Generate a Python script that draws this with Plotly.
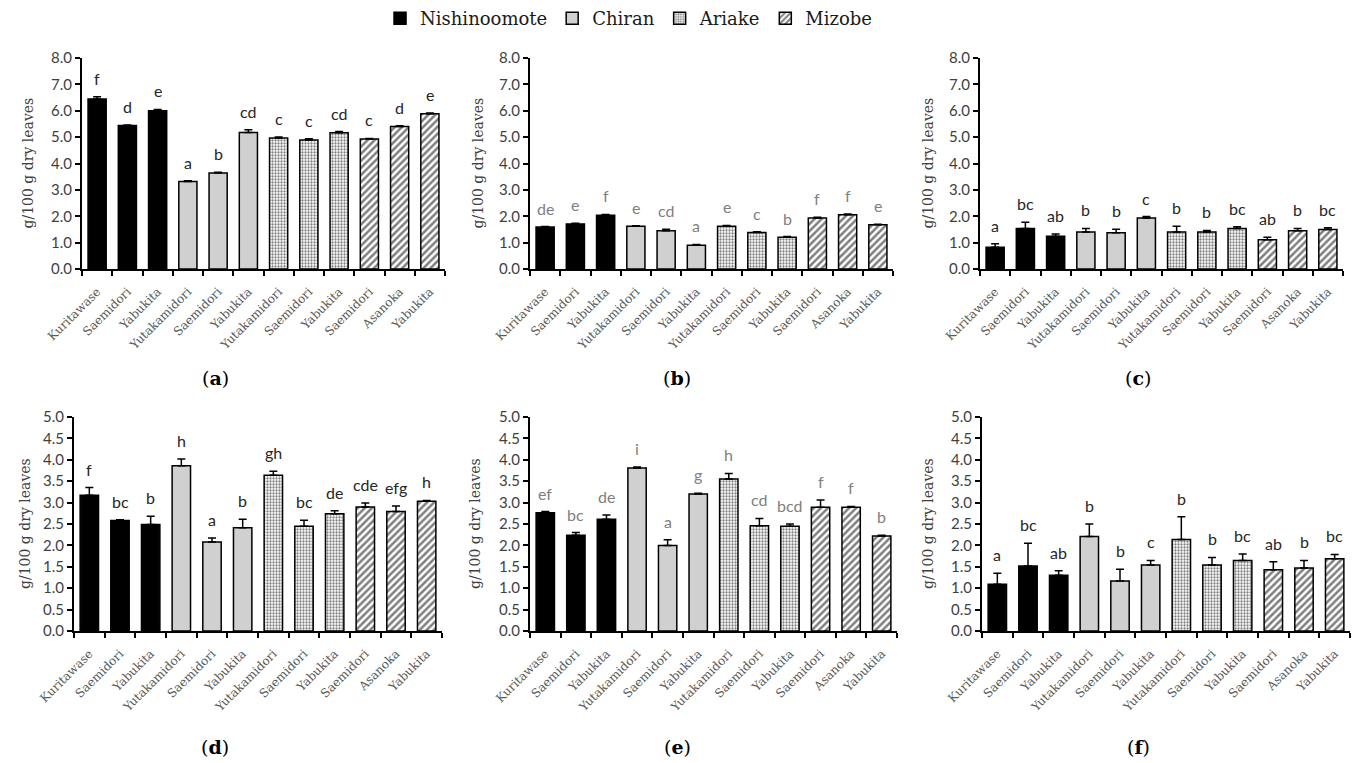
import plotly.graph_objects as go

# ---------------- data ----------------
categories = ["Kuritawase", "Saemidori", "Yabukita", "Yutakamidori", "Saemidori", "Yabukita",
              "Yutakamidori", "Saemidori", "Yabukita", "Saemidori", "Asanoka", "Yabukita"]
regions = ["Nishinoomote", "Chiran", "Ariake", "Mizobe"]
region_index = [0, 0, 0, 1, 1, 1, 2, 2, 2, 3, 3, 3]

vals_a = [6.45, 5.44, 6.00, 3.32, 3.64, 5.18, 4.97, 4.89, 5.17, 4.93, 5.40, 5.89]
err_a = [0.08, 0.02, 0.05, 0.03, 0.03, 0.10, 0.03, 0.05, 0.04, 0.02, 0.03, 0.02]
let_a = ["f", "d", "e", "a", "b", "cd", "c", "c", "cd", "c", "d", "e"]

vals_b = [1.59, 1.71, 2.04, 1.62, 1.45, 0.90, 1.62, 1.38, 1.20, 1.93, 2.06, 1.68]
err_b = [0.02, 0.02, 0.03, 0.02, 0.06, 0.03, 0.03, 0.03, 0.03, 0.03, 0.03, 0.02]
let_b = ["de", "e", "f", "e", "cd", "a", "e", "c", "b", "f", "f", "e"]

vals_c = [0.82, 1.54, 1.24, 1.40, 1.37, 1.93, 1.40, 1.40, 1.54, 1.11, 1.45, 1.50]
err_c = [0.14, 0.23, 0.09, 0.14, 0.14, 0.06, 0.22, 0.06, 0.06, 0.09, 0.09, 0.06]
let_c = ["a", "bc", "ab", "b", "b", "c", "b", "b", "bc", "ab", "b", "bc"]

vals_d = [3.17, 2.58, 2.49, 3.86, 2.08, 2.41, 3.64, 2.45, 2.74, 2.90, 2.79, 3.03]
err_d = [0.18, 0.02, 0.19, 0.16, 0.09, 0.20, 0.09, 0.14, 0.07, 0.09, 0.13, 0.02]
let_d = ["f", "bc", "b", "h", "a", "b", "gh", "bc", "de", "cde", "efg", "h"]

vals_e = [2.76, 2.24, 2.61, 3.81, 2.00, 3.20, 3.55, 2.46, 2.45, 2.89, 2.89, 2.22]
err_e = [0.03, 0.06, 0.10, 0.02, 0.13, 0.02, 0.13, 0.17, 0.05, 0.17, 0.02, 0.02]
let_e = ["ef", "bc", "de", "i", "a", "g", "h", "cd", "bcd", "f", "f", "b"]

vals_f = [1.09, 1.52, 1.30, 2.21, 1.17, 1.54, 2.14, 1.54, 1.65, 1.43, 1.47, 1.69]
err_f = [0.26, 0.53, 0.11, 0.29, 0.27, 0.11, 0.53, 0.18, 0.15, 0.19, 0.18, 0.10]
let_f = ["a", "bc", "ab", "b", "b", "c", "b", "b", "bc", "ab", "b", "bc"]

panel_labels = ["a", "b", "c", "d", "e", "f"]
y_max = [8, 8, 8, 5, 5, 5]
y_step = [1.0, 1.0, 1.0, 0.5, 0.5, 0.5]
y_title = "g/100 g dry leaves"

# ---------------- styles ----------------
W, H = 1359, 763
# plot boxes in pixels: (left, right, top, bottom)
boxes = [(82, 445, 58, 269), (530, 893, 58, 269), (980, 1343, 58, 269),
         (74, 442, 417, 631), (530, 897, 417, 631), (982, 1350, 417, 631)]
title_x = [27, 477, 927, 25, 475, 928]
label_pos = [(215, 378), (677, 378), (1138, 378), (215, 747), (677, 747), (1138, 747)]
letter_colors = ["#262626", "#808080", "#262626", "#262626", "#808080", "#262626"]

region_marker = [
    dict(color="black", line=dict(color="black", width=1.5)),
    dict(color="#d0d0d0", line=dict(color="black", width=1.5)),
    dict(color="white", line=dict(color="black", width=1.5),
         pattern=dict(shape=".", fgcolor="black", bgcolor="white", size=3, solidity=0.45)),
    dict(color="white", line=dict(color="black", width=1.5),
         pattern=dict(shape="/", fgcolor="black", bgcolor="white", size=5, solidity=0.5)),
]

panels = [(vals_a, err_a, let_a), (vals_b, err_b, let_b), (vals_c, err_c, let_c),
          (vals_d, err_d, let_d), (vals_e, err_e, let_e), (vals_f, err_f, let_f)]

fig = go.Figure()
annotations = []
layout_axes = {}
tick_font = dict(family="Lato, Carlito, sans-serif", size=15, color="#404040")
serif = "DejaVu Serif, Liberation Serif, serif"

for p, (vals, errs, lets) in enumerate(panels):
    xa = "x" if p == 0 else f"x{p+1}"
    ya = "y" if p == 0 else f"y{p+1}"
    for r, rname in enumerate(regions):
        idx = [i for i in range(len(categories)) if region_index[i] == r]
        fig.add_trace(go.Bar(
            x=idx, y=[vals[i] for i in idx], width=0.6,
            name=rname, legendgroup=rname, showlegend=(p == 0),
            marker=region_marker[r],
            error_y=dict(type="data", symmetric=False, array=[errs[i] for i in idx],
                         arrayminus=[0] * len(idx), color="black", thickness=1.5, width=4),
            xaxis=xa, yaxis=ya,
        ))
    for i, t in enumerate(lets):
        annotations.append(dict(x=i, y=vals[i] + errs[i], xref=xa, yref=ya, text=t,
                                showarrow=False, yanchor="bottom", yshift=7,
                                font=dict(family="Lato, sans-serif", size=16,
                                          color=letter_colors[p])))
    l, rgt, t, b = boxes[p]
    xkey = "xaxis" if p == 0 else f"xaxis{p+1}"
    ykey = "yaxis" if p == 0 else f"yaxis{p+1}"
    n = len(categories)
    nt = int(round(y_max[p] / y_step[p])) + 1
    layout_axes[xkey] = dict(
        domain=[l / W, rgt / W], anchor=ya, range=[-0.5, n - 0.5], automargin=False,
        tickmode="array", tickvals=list(range(n)), ticktext=categories,
        tickangle=-45, ticks="", ticklabelstandoff=9,
        showline=True, linecolor="black", linewidth=2,
        showgrid=False, zeroline=False,
        tickfont=dict(family=serif, size=12, color="#595959"),
        minor=dict(tickmode="array", tickvals=[k - 0.5 for k in range(n + 1)],
                   ticks="outside", ticklen=5, tickwidth=1.5, tickcolor="black", showgrid=False),
    )
    layout_axes[ykey] = dict(
        domain=[1 - b / H, 1 - t / H], anchor=xa, range=[0, y_max[p]], automargin=False,
        tickmode="array", tickvals=[k * y_step[p] for k in range(nt)],
        ticktext=[f"{k * y_step[p]:.1f}" for k in range(nt)],
        ticks="outside", ticklen=5, tickwidth=1.5, tickcolor="black",
        showline=True, linecolor="black", linewidth=2, showgrid=False, zeroline=False,
        tickfont=tick_font,
    )
    annotations.append(dict(x=title_x[p] / W, y=1 - (t + b) / 2 / H, xref="paper", yref="paper",
                            text=y_title, textangle=-90, showarrow=False,
                            xanchor="center", yanchor="middle",
                            font=dict(family=serif, size=14, color="#404040")))
    lx, ly = label_pos[p]
    annotations.append(dict(x=lx / W, y=1 - ly / H, xref="paper", yref="paper",
                            text=f"(<b>{panel_labels[p]}</b>)", showarrow=False,
                            xanchor="center", yanchor="middle",
                            font=dict(family=serif, size=19, color="black")))

fig.update_layout(
    width=W, height=H, margin=dict(l=0, r=0, t=0, b=0, autoexpand=False),
    plot_bgcolor="white", paper_bgcolor="white",
    barmode="overlay", annotations=annotations,
    legend=dict(orientation="h", x=0.4625, xanchor="center", y=1.0, yanchor="top",
                font=dict(family=serif, size=18, color="#1a1a1a"),
                bgcolor="rgba(0,0,0,0)", itemwidth=30),
    **layout_axes,
)

fig.write_html("out.html", config={"displayModeBar": False},
               post_script="document.body.style.margin='0';document.body.style.overflow='hidden';")
